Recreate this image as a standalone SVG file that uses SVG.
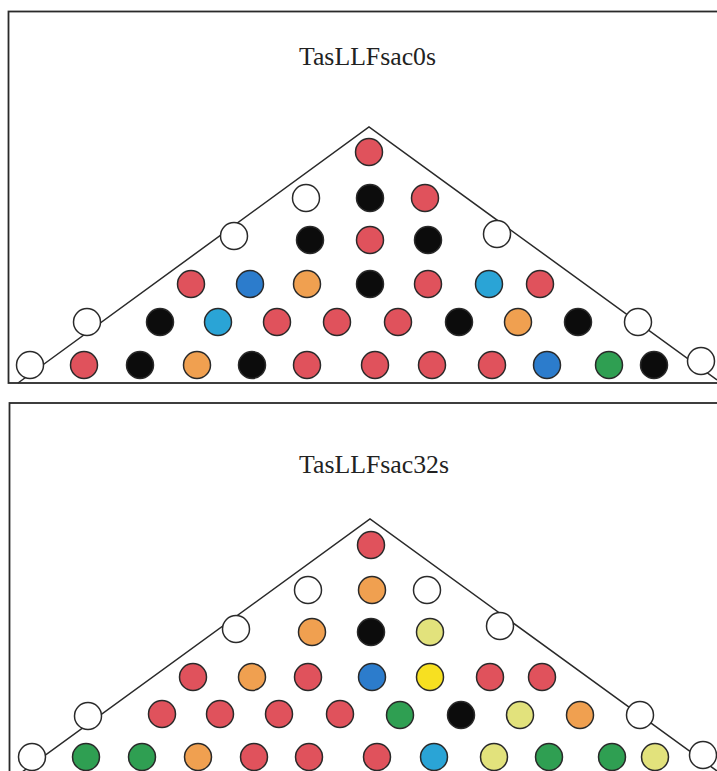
<svg xmlns="http://www.w3.org/2000/svg" width="717" height="771" viewBox="0 0 717 771">
<style>
.panel{fill:#fff;stroke:#2a2a2a;stroke-width:1.8}
.edge{fill:none;stroke:#2a2a2a;stroke-width:1.5}
.title{font-family:"Liberation Serif","Times New Roman",serif;font-size:25px;fill:#222}
circle{stroke:#2a2a2a;stroke-width:1.5}
.r{fill:#e0525c}.k{fill:#0c0c0c}.b{fill:#2c7ccc}.c{fill:#2aa4d6}.o{fill:#f0a050}.g{fill:#2f9f52}.y{fill:#f7e021}.l{fill:#e2e27c}.w{fill:#fff}
</style>
<rect width="717" height="771" fill="#fff"/>
<g id="panel-top">
<rect class="panel" x="8.5" y="11.5" width="720" height="371.5"/>
<text class="title" x="299" y="65" textLength="137" lengthAdjust="spacingAndGlyphs">TasLLFsac0s</text>
</g>
<g id="panel-bottom">
<rect class="panel" x="9.5" y="403" width="720" height="400"/>
<text class="title" x="299" y="473" textLength="150" lengthAdjust="spacingAndGlyphs">TasLLFsac32s</text>
</g>
<g id="connectors">
<polyline class="edge" points="18,383 369,127 717,380"/>
<polyline class="edge" points="18,775 370,519 717,771"/>
</g>
<g id="top-nodes">
<g id="t1-1"><circle class="r" cx="369" cy="152" r="13.5"/></g>
<g id="t2-1"><circle class="w" cx="306" cy="198" r="13.5"/></g>
<g id="t2-2"><circle class="k" cx="370" cy="198" r="13.5"/></g>
<g id="t2-3"><circle class="r" cx="425" cy="198" r="13.5"/></g>
<g id="t3-1"><circle class="w" cx="234" cy="236" r="13.5"/></g>
<g id="t3-2"><circle class="k" cx="310" cy="240" r="13.5"/></g>
<g id="t3-3"><circle class="r" cx="370" cy="240" r="13.5"/></g>
<g id="t3-4"><circle class="k" cx="428" cy="240" r="13.5"/></g>
<g id="t3-5"><circle class="w" cx="497" cy="234" r="13.5"/></g>
<g id="t4-1"><circle class="r" cx="191" cy="284" r="13.5"/></g>
<g id="t4-2"><circle class="b" cx="250" cy="284" r="13.5"/></g>
<g id="t4-3"><circle class="o" cx="307" cy="284" r="13.5"/></g>
<g id="t4-4"><circle class="k" cx="370" cy="284" r="13.5"/></g>
<g id="t4-5"><circle class="r" cx="428" cy="284" r="13.5"/></g>
<g id="t4-6"><circle class="c" cx="489" cy="284" r="13.5"/></g>
<g id="t4-7"><circle class="r" cx="540" cy="284" r="13.5"/></g>
<g id="t5-1"><circle class="w" cx="87" cy="322" r="13.5"/></g>
<g id="t5-2"><circle class="k" cx="160" cy="322" r="13.5"/></g>
<g id="t5-3"><circle class="c" cx="218" cy="322" r="13.5"/></g>
<g id="t5-4"><circle class="r" cx="277" cy="322" r="13.5"/></g>
<g id="t5-5"><circle class="r" cx="337" cy="322" r="13.5"/></g>
<g id="t5-6"><circle class="r" cx="398" cy="322" r="13.5"/></g>
<g id="t5-7"><circle class="k" cx="459" cy="322" r="13.5"/></g>
<g id="t5-8"><circle class="o" cx="518" cy="322" r="13.5"/></g>
<g id="t5-9"><circle class="k" cx="578" cy="322" r="13.5"/></g>
<g id="t5-10"><circle class="w" cx="638" cy="322" r="13.5"/></g>
<g id="t6-1"><circle class="w" cx="30" cy="365" r="13.5"/></g>
<g id="t6-2"><circle class="r" cx="84" cy="365" r="13.5"/></g>
<g id="t6-3"><circle class="k" cx="140" cy="365" r="13.5"/></g>
<g id="t6-4"><circle class="o" cx="197" cy="365" r="13.5"/></g>
<g id="t6-5"><circle class="k" cx="252" cy="365" r="13.5"/></g>
<g id="t6-6"><circle class="r" cx="307" cy="365" r="13.5"/></g>
<g id="t6-7"><circle class="r" cx="375" cy="365" r="13.5"/></g>
<g id="t6-8"><circle class="r" cx="432" cy="365" r="13.5"/></g>
<g id="t6-9"><circle class="r" cx="492" cy="365" r="13.5"/></g>
<g id="t6-10"><circle class="b" cx="547" cy="365" r="13.5"/></g>
<g id="t6-11"><circle class="g" cx="609" cy="365" r="13.5"/></g>
<g id="t6-12"><circle class="k" cx="654" cy="365" r="13.5"/></g>
<g id="t6-13"><circle class="w" cx="701" cy="361" r="13.5"/></g>
</g>
<g id="bottom-nodes">
<g id="b1-1"><circle class="r" cx="371" cy="545" r="13.5"/></g>
<g id="b2-1"><circle class="w" cx="308" cy="590" r="13.5"/></g>
<g id="b2-2"><circle class="o" cx="372" cy="590" r="13.5"/></g>
<g id="b2-3"><circle class="w" cx="427" cy="590" r="13.5"/></g>
<g id="b3-1"><circle class="w" cx="236" cy="629" r="13.5"/></g>
<g id="b3-2"><circle class="o" cx="312" cy="632" r="13.5"/></g>
<g id="b3-3"><circle class="k" cx="371" cy="632" r="13.5"/></g>
<g id="b3-4"><circle class="l" cx="430" cy="632" r="13.5"/></g>
<g id="b3-5"><circle class="w" cx="500" cy="626" r="13.5"/></g>
<g id="b4-1"><circle class="r" cx="193" cy="677" r="13.5"/></g>
<g id="b4-2"><circle class="o" cx="252" cy="677" r="13.5"/></g>
<g id="b4-3"><circle class="r" cx="308" cy="677" r="13.5"/></g>
<g id="b4-4"><circle class="b" cx="372" cy="677" r="13.5"/></g>
<g id="b4-5"><circle class="y" cx="430" cy="677" r="13.5"/></g>
<g id="b4-6"><circle class="r" cx="490" cy="677" r="13.5"/></g>
<g id="b4-7"><circle class="r" cx="542" cy="677" r="13.5"/></g>
<g id="b5-1"><circle class="w" cx="88" cy="716" r="13.5"/></g>
<g id="b5-2"><circle class="r" cx="162" cy="714" r="13.5"/></g>
<g id="b5-3"><circle class="r" cx="220" cy="714" r="13.5"/></g>
<g id="b5-4"><circle class="r" cx="279" cy="714" r="13.5"/></g>
<g id="b5-5"><circle class="r" cx="340" cy="714" r="13.5"/></g>
<g id="b5-6"><circle class="g" cx="400" cy="715" r="13.5"/></g>
<g id="b5-7"><circle class="k" cx="461" cy="715" r="13.5"/></g>
<g id="b5-8"><circle class="l" cx="520" cy="715" r="13.5"/></g>
<g id="b5-9"><circle class="o" cx="580" cy="715" r="13.5"/></g>
<g id="b5-10"><circle class="w" cx="640" cy="715" r="13.5"/></g>
<g id="b6-1"><circle class="w" cx="32" cy="757" r="13.5"/></g>
<g id="b6-2"><circle class="g" cx="86" cy="757" r="13.5"/></g>
<g id="b6-3"><circle class="g" cx="142" cy="757" r="13.5"/></g>
<g id="b6-4"><circle class="o" cx="198" cy="757" r="13.5"/></g>
<g id="b6-5"><circle class="r" cx="254" cy="757" r="13.5"/></g>
<g id="b6-6"><circle class="r" cx="309" cy="757" r="13.5"/></g>
<g id="b6-7"><circle class="r" cx="377" cy="757" r="13.5"/></g>
<g id="b6-8"><circle class="c" cx="434" cy="757" r="13.5"/></g>
<g id="b6-9"><circle class="l" cx="494" cy="757" r="13.5"/></g>
<g id="b6-10"><circle class="g" cx="549" cy="757" r="13.5"/></g>
<g id="b6-11"><circle class="g" cx="612" cy="757" r="13.5"/></g>
<g id="b6-12"><circle class="l" cx="655" cy="757" r="13.5"/></g>
<g id="b6-13"><circle class="w" cx="703" cy="755" r="13.5"/></g>
</g>
</svg>
